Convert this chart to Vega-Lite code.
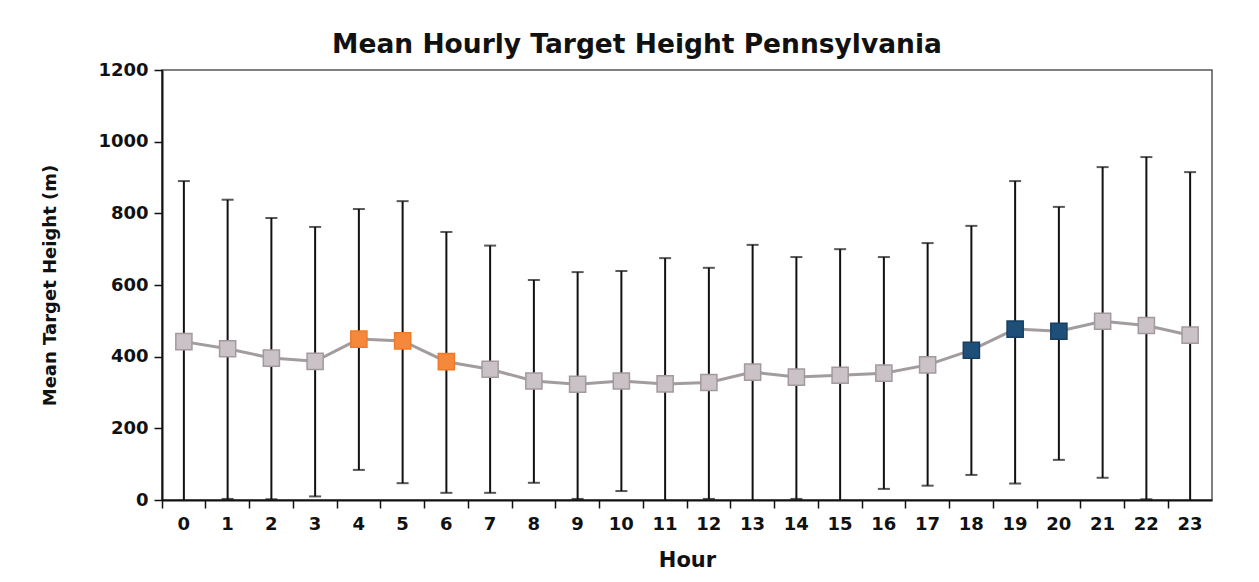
{
  "$schema": "https://vega.github.io/schema/vega-lite/v6.json",
  "autosize": {"type": "none"},
  "width": 1050,
  "height": 430,
  "padding": {"left": 162, "top": 70, "right": 47, "bottom": 82},
  "background": "white",
  "config": {
    "font": "DejaVu Sans",
    "view": {"stroke": "#555", "strokeWidth": 1.5}
  },
  "title": {
    "text": "Mean Hourly Target Height Pennsylvania",
    "font": "DejaVu Sans",
    "fontSize": 26.5,
    "fontWeight": "bold",
    "color": "#111",
    "anchor": "middle",
    "dx": -50,
    "offset": 3
  },
  "data": {
    "values": [
      {"hour": 0, "mean": 442, "low": -10, "high": 890, "group": "other"},
      {"hour": 1, "mean": 422, "low": 3, "high": 838, "group": "other"},
      {"hour": 2, "mean": 396, "low": 2, "high": 787, "group": "other"},
      {"hour": 3, "mean": 387, "low": 10, "high": 762, "group": "other"},
      {"hour": 4, "mean": 449, "low": 84, "high": 812, "group": "morning"},
      {"hour": 5, "mean": 444, "low": 47, "high": 834, "group": "morning"},
      {"hour": 6, "mean": 386, "low": 20, "high": 748, "group": "morning"},
      {"hour": 7, "mean": 365, "low": 20, "high": 710, "group": "other"},
      {"hour": 8, "mean": 332, "low": 48, "high": 614, "group": "other"},
      {"hour": 9, "mean": 323, "low": 3, "high": 636, "group": "other"},
      {"hour": 10, "mean": 332, "low": 25, "high": 639, "group": "other"},
      {"hour": 11, "mean": 324, "low": -20, "high": 675, "group": "other"},
      {"hour": 12, "mean": 328, "low": 3, "high": 648, "group": "other"},
      {"hour": 13, "mean": 357, "low": -5, "high": 712, "group": "other"},
      {"hour": 14, "mean": 343, "low": 3, "high": 678, "group": "other"},
      {"hour": 15, "mean": 348, "low": -5, "high": 700, "group": "other"},
      {"hour": 16, "mean": 354, "low": 31, "high": 678, "group": "other"},
      {"hour": 17, "mean": 377, "low": 40, "high": 717, "group": "other"},
      {"hour": 18, "mean": 418, "low": 70, "high": 765, "group": "evening"},
      {"hour": 19, "mean": 477, "low": 46, "high": 890, "group": "evening"},
      {"hour": 20, "mean": 471, "low": 112, "high": 818, "group": "evening"},
      {"hour": 21, "mean": 499, "low": 62, "high": 929, "group": "other"},
      {"hour": 22, "mean": 487, "low": 2, "high": 957, "group": "other"},
      {"hour": 23, "mean": 460, "low": -10, "high": 915, "group": "other"}
    ]
  },
  "encoding": {
    "x": {
      "field": "hour",
      "type": "ordinal",
      "scale": {"paddingInner": 0, "paddingOuter": 0},
      "axis": {
        "title": "Hour",
        "titleFont": "DejaVu Sans",
        "titleFontSize": 21,
        "titleFontWeight": "bold",
        "titleColor": "#111",
        "titlePadding": 16,
        "labelAngle": 0,
        "labelFont": "DejaVu Sans",
        "labelFontSize": 18,
        "labelFontWeight": "bold",
        "labelColor": "#111",
        "labelPadding": 7,
        "bandPosition": 0,
        "domainColor": "#111",
        "domainWidth": 2,
        "tickColor": "#111",
        "tickWidth": 1.5,
        "tickSize": 8,
        "grid": false
      }
    }
  },
  "layer": [
    {
      "mark": {"type": "rule", "color": "#111", "strokeWidth": 2, "clip": true},
      "encoding": {
        "y": {
          "field": "low",
          "type": "quantitative",
          "scale": {"domain": [0, 1200]},
          "axis": {
            "title": "Mean Target Height (m)",
            "titleFont": "DejaVu Sans",
            "titleFontSize": 18,
            "titleFontWeight": "bold",
            "titleColor": "#111",
            "titlePadding": 38,
            "values": [0, 200, 400, 600, 800, 1000, 1200],
            "format": "d",
            "labelFont": "DejaVu Sans",
            "labelFontSize": 18,
            "labelFontWeight": "bold",
            "labelColor": "#111",
            "labelPadding": 6,
            "domainColor": "#111",
            "domainWidth": 2,
            "tickColor": "#111",
            "tickWidth": 1.5,
            "tickSize": 8,
            "grid": false
          }
        },
        "y2": {"field": "high"}
      }
    },
    {
      "mark": {"type": "tick", "color": "#111", "thickness": 2, "size": 12, "clip": true},
      "encoding": {"y": {"field": "high", "type": "quantitative"}}
    },
    {
      "mark": {"type": "tick", "color": "#111", "thickness": 2, "size": 12, "clip": true},
      "encoding": {"y": {"field": "low", "type": "quantitative"}}
    },
    {
      "mark": {"type": "line", "color": "#a29c9f", "strokeWidth": 3},
      "encoding": {"y": {"field": "mean", "type": "quantitative"}}
    },
    {
      "mark": {"type": "point", "shape": "square", "filled": true, "size": 260, "opacity": 1, "strokeWidth": 1.5},
      "encoding": {
        "y": {"field": "mean", "type": "quantitative"},
        "fill": {
          "field": "group",
          "type": "nominal",
          "scale": {"domain": ["other", "morning", "evening"], "range": ["#cac2c6", "#f5883a", "#1d4f78"]},
          "legend": null
        },
        "stroke": {
          "field": "group",
          "type": "nominal",
          "scale": {"domain": ["other", "morning", "evening"], "range": ["#a39aa0", "#f07a2a", "#163e60"]},
          "legend": null
        }
      }
    }
  ]
}
